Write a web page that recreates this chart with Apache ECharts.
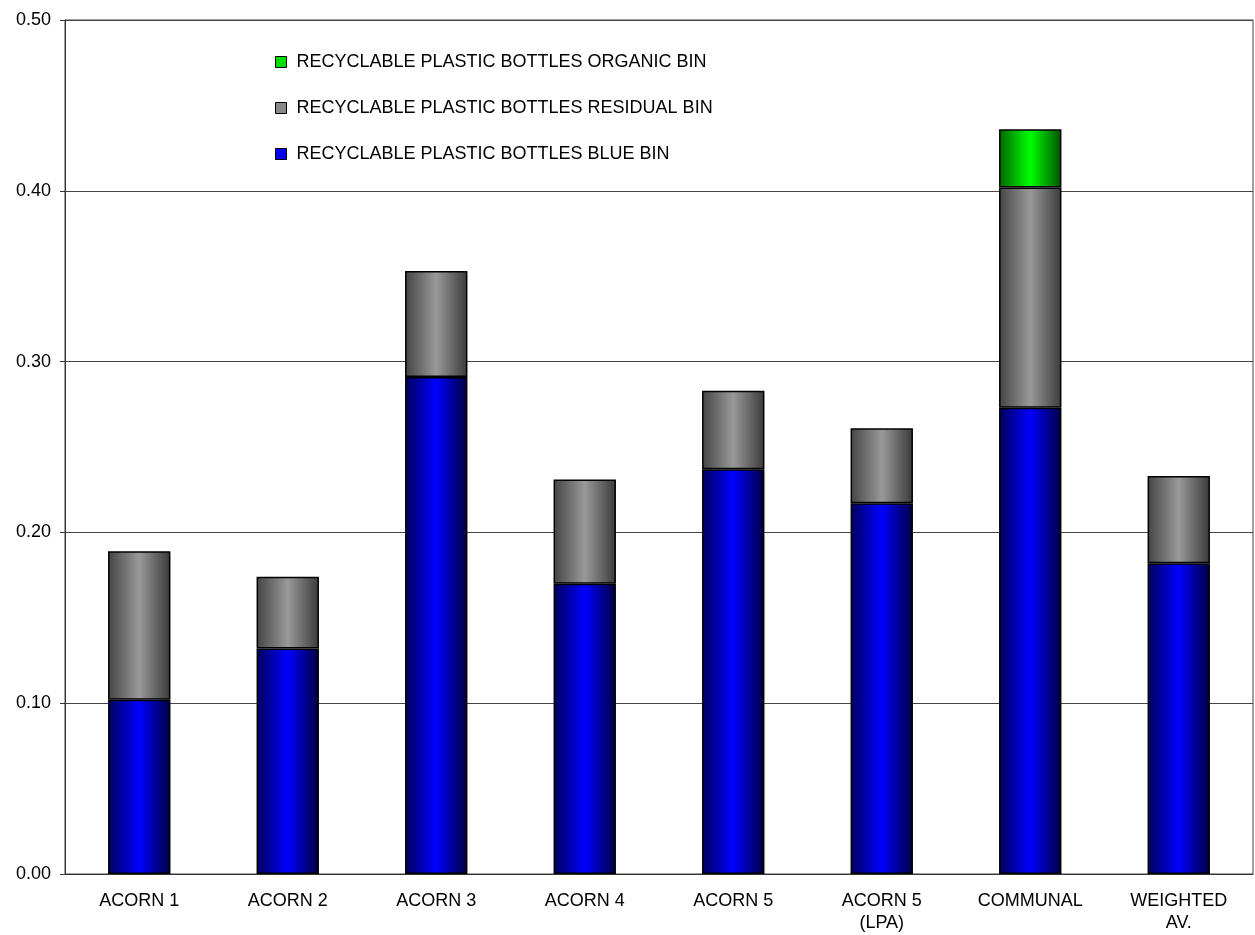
<!DOCTYPE html>
<html>
<head>
<meta charset="utf-8">
<script src="https://cdn.jsdelivr.net/npm/echarts@6/dist/echarts.min.js"></script>
<style>
  html, body { margin: 0; padding: 0; background: #fff; }
  #main { width: 1255px; height: 935px; }
</style>
</head>
<body>
<div id="main"></div>
<script>
// categories + values
const categories = ['ACORN 1', 'ACORN 2', 'ACORN 3', 'ACORN 4', 'ACORN 5', 'ACORN 5\n(LPA)', 'COMMUNAL', 'WEIGHTED\nAV.'];
const blueBin = [0.102, 0.132, 0.291, 0.170, 0.237, 0.217, 0.273, 0.182];
const residualBin = [0.087, 0.042, 0.062, 0.061, 0.046, 0.044, 0.129, 0.051];
const organicBin = [0, 0, 0, 0, 0, 0, 0.034, 0];
const yTicks = { min: 0, max: 0.5, step: 0.1 };

const names = [
  'RECYCLABLE PLASTIC BOTTLES BLUE BIN',
  'RECYCLABLE PLASTIC BOTTLES RESIDUAL BIN',
  'RECYCLABLE PLASTIC BOTTLES ORGANIC BIN'
];

// cylinder-ish shading like the old excel bars
function shade(dark, light, darker) {
  return new echarts.graphic.LinearGradient(0, 0, 1, 0, [
    { offset: 0, color: dark },
    { offset: 0.5, color: light },
    { offset: 1, color: darker }
  ]);
}

const chart = echarts.init(document.getElementById('main'));

function barSeries(name, data, fill) {
  return {
    name: name,
    type: 'bar',
    stack: 'total',
    barWidth: '42%',
    data: data,
    itemStyle: { color: fill, borderColor: '#000', borderWidth: 1.5 },
    emphasis: { disabled: true }
  };
}

const option = {
  animation: false,
  textStyle: { fontFamily: 'Liberation Sans, Arial, sans-serif', color: '#000' },
  grid: {
    left: 65, right: 2, top: 20, bottom: 61,
    show: true, borderColor: '#444', borderWidth: 1
  },
  legend: {
    orient: 'vertical',
    left: 270, top: 48,
    itemWidth: 11, itemHeight: 11,
    itemGap: 28,
    icon: 'rect',
    textStyle: { fontSize: 18, color: '#000', padding: [0, 0, 0, 5] },
    data: [
      { name: names[2], itemStyle: { color: '#00dd00', borderColor: '#000', borderWidth: 1 } },
      { name: names[1], itemStyle: { color: '#888', borderColor: '#000', borderWidth: 1 } },
      { name: names[0], itemStyle: { color: '#0000ee', borderColor: '#000', borderWidth: 1 } }
    ]
  },
  xAxis: {
    type: 'category',
    data: categories,
    axisLine: { lineStyle: { color: '#333', width: 1 } },
    axisTick: { length: 6, lineStyle: { color: '#333' } },
    axisLabel: { fontSize: 18, color: '#000', margin: 16, lineHeight: 22 }
  },
  yAxis: {
    type: 'value',
    min: yTicks.min, max: yTicks.max, interval: yTicks.step,
    axisLine: { show: true, lineStyle: { color: '#333', width: 1 } },
    axisTick: { show: true, length: 5, lineStyle: { color: '#333' } },
    axisLabel: { fontSize: 18, color: '#000', margin: 14, formatter: v => v.toFixed(2) },
    splitLine: { lineStyle: { color: '#444', width: 1 } }
  },
  series: [
    barSeries(names[0], blueBin, shade('#00005a', '#0000ff', '#000040')),
    barSeries(names[1], residualBin, shade('#444', '#999', '#3a3a3a')),
    barSeries(names[2], organicBin.map(v => v === 0 ? '-' : v), shade('#006600', '#00ff00', '#005000'))
  ]
};

chart.setOption(option);
window.addEventListener('resize', function () {
  chart.resize();
});
</script>
</body>
</html>
